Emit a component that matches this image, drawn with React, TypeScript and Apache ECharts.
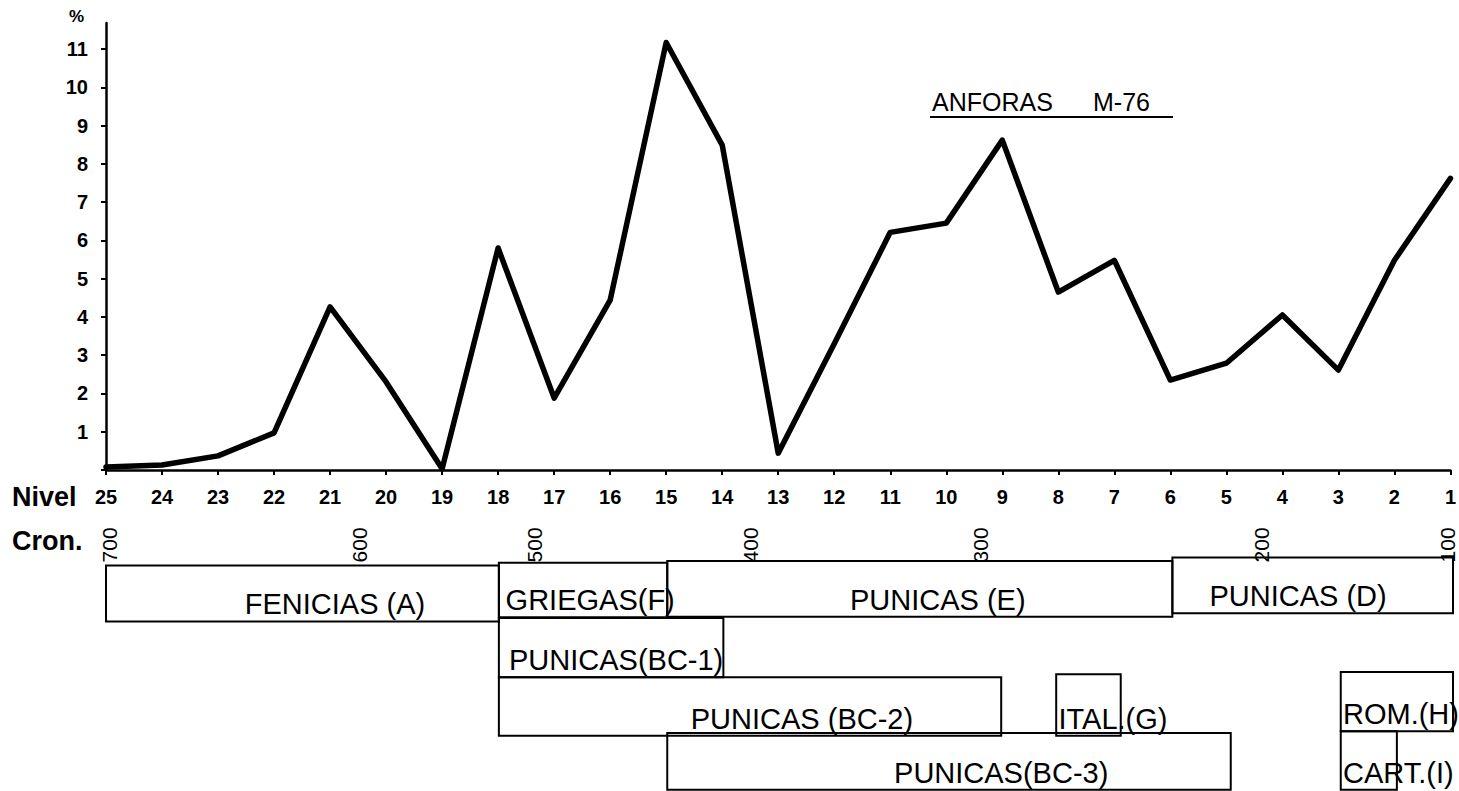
import React, { useEffect, useRef } from "react";
import * as echarts from "echarts";

// Nivel (level) categories, right to left order as drawn
const nivel = [25, 24, 23, 22, 21, 20, 19, 18, 17, 16, 15, 14, 13, 12, 11, 10, 9, 8, 7, 6, 5, 4, 3, 2, 1];
// Percentage of anforas per level
const percent = [0.08, 0.13, 0.37, 0.97, 4.26, 2.3, 0.03, 5.8, 1.88, 4.44, 11.17, 8.49, 0.44, 3.3, 6.21, 6.45, 8.62, 4.65, 5.48, 2.35, 2.79, 4.05, 2.61, 5.48, 7.62];

const yTickValues = [0, 1, 2, 3, 4, 5, 6, 7, 8, 9, 10, 11];
const yLabelValues = [1, 2, 3, 4, 5, 6, 7, 8, 9, 10, 11];

// Chronology (years BC) and the nivel position where each falls
const cronLabels = ["700", "600", "500", "400", "300", "200", "100"];
const cronNivel = [24.93, 20.49, 17.37, 13.52, 9.42, 4.41, 1.1];

// Type ranges (boxes) in nivel units and row units
const boxLabels = ["FENICIAS (A)", "GRIEGAS(F)", "PUNICAS (E)", "PUNICAS (D)", "PUNICAS(BC-1)", "PUNICAS (BC-2)", "ITAL.(G)", "PUNICAS(BC-3)", "ROM.(H)", "CART.(I)"];
const boxFrom = [25, 18, 15, 6, 18, 18, 8.07, 15, 3, 3];
const boxTo = [18, 15, 6, 1, 14, 9.05, 6.92, 4.96, 1, 2];
const boxRowTop = [0.08, 0.03, 0, -0.06, 0.99, 2.02, 1.97, 2.99, 1.93, 2.96];
const boxRowBottom = [1.05, 0.98, 0.97, 0.91, 2.02, 3.04, 3.04, 3.98, 2.96, 3.98];
const boxLabelAt = [20.92, 17.88, 10.18, 3.76, 17.82, 12.6, 8.03, 9.05, 2.96, 2.96];
const boxLabelAlign = ["center", "left", "center", "center", "left", "center", "left", "center", "left", "left"];

const FONT = '"Liberation Sans", Arial, sans-serif';

export default function App() {
  const ref = useRef<HTMLDivElement>(null);
  useEffect(() => {
    if (!ref.current) return;
    const chart = echarts.init(ref.current, undefined, { renderer: "svg" });

    const lineData = nivel.map((n, i) => [n, percent[i]]);
    const boxData = boxLabels.map((_, i) => [boxFrom[i], boxTo[i], boxRowTop[i], boxRowBottom[i], boxLabelAt[i], i]);
    const cronData = cronLabels.map((_, i) => [cronNivel[i], -0.28, i]);

    chart.setOption({
      animation: false,
      backgroundColor: "#fff",
      grid: [
        { left: 106, right: 6, top: 23, bottom: 321 },
        { left: 106, right: 6, top: 492, bottom: 0 },
      ],
      xAxis: [
        {
          gridIndex: 0,
          type: "value",
          min: 1,
          max: 25,
          interval: 1,
          inverse: true,
          splitLine: { show: false },
          axisLine: { onZero: false, lineStyle: { color: "#000", width: 2.5 } },
          axisTick: { show: true, length: 5, lineStyle: { color: "#000", width: 2 } },
          axisLabel: {
            color: "#000",
            fontFamily: FONT,
            fontWeight: "bold",
            fontSize: 20,
            margin: 17,
            showMinLabel: true,
            showMaxLabel: true,
          },
        },
        { gridIndex: 1, type: "value", min: 1, max: 25, inverse: true, show: false },
      ],
      yAxis: [
        {
          gridIndex: 0,
          type: "value",
          min: 0,
          max: 11.68,
          interval: 1,
          splitLine: { show: false },
          axisLine: { show: true, lineStyle: { color: "#000", width: 2.5 } },
          axisTick: { show: true, length: 5, customValues: yTickValues, lineStyle: { color: "#000", width: 2 } },
          axisLabel: {
            customValues: yLabelValues,
            color: "#000",
            fontFamily: FONT,
            fontWeight: "bold",
            fontSize: 20,
            margin: 18,
          },
        },
        { gridIndex: 1, type: "value", min: -1.2, max: 4, inverse: true, show: false },
      ],
      series: [
        {
          type: "line",
          xAxisIndex: 0,
          yAxisIndex: 0,
          data: lineData,
          symbol: "none",
          lineStyle: { color: "#000", width: 5.5, join: "round", cap: "round" },
        },
        {
          type: "custom",
          xAxisIndex: 1,
          yAxisIndex: 1,
          data: boxData,
          clip: false,
          renderItem: (params: any, api: any) => {
            const p0 = api.coord([api.value(0), api.value(2)]);
            const p1 = api.coord([api.value(1), api.value(3)]);
            const idx = api.value(5);
            const lp = api.coord([api.value(4), api.value(3)]);
            const x = Math.min(p0[0], p1[0]);
            const w = Math.abs(p1[0] - p0[0]);
            return {
              type: "group",
              children: [
                {
                  type: "rect",
                  shape: { x, y: p0[1], width: w, height: p1[1] - p0[1] },
                  style: { fill: "none", stroke: "#000", lineWidth: 2 },
                },
                {
                  type: "text",
                  x: lp[0],
                  y: p1[1] - 17,
                  style: {
                    text: boxLabels[idx],
                    fill: "#000",
                    font: `29px ${FONT}`,
                    align: boxLabelAlign[idx],
                    verticalAlign: "middle",
                  },
                },
              ],
            };
          },
        },
        {
          type: "custom",
          xAxisIndex: 1,
          yAxisIndex: 1,
          data: cronData,
          clip: false,
          renderItem: (params: any, api: any) => {
            const p = api.coord([api.value(0), api.value(1)]);
            const idx = api.value(2);
            return {
              type: "text",
              x: p[0],
              y: p[1],
              rotation: Math.PI / 2,
              style: {
                text: cronLabels[idx],
                fill: "#000",
                font: `21px ${FONT}`,
                align: "center",
                verticalAlign: "middle",
              },
            };
          },
        },
      ],
      graphic: [
        { type: "text", left: 69, top: 8, style: { text: "%", fill: "#000", font: `bold 17px ${FONT}` } },
        { type: "text", x: 12, y: 497, style: { text: "Nivel", fill: "#000", font: `bold 27px ${FONT}`, verticalAlign: "middle" } },
        { type: "text", x: 12, y: 541, style: { text: "Cron.", fill: "#000", font: `bold 27px ${FONT}`, verticalAlign: "middle" } },
        { type: "text", x: 932, y: 102, style: { text: "ANFORAS", fill: "#000", font: `25px ${FONT}`, verticalAlign: "middle" } },
        { type: "text", x: 1093, y: 102, style: { text: "M-76", fill: "#000", font: `25px ${FONT}`, verticalAlign: "middle" } },
        { type: "line", shape: { x1: 930, y1: 117, x2: 1173, y2: 117 }, style: { stroke: "#000", lineWidth: 2 } },
      ],
    });
    return () => chart.dispose();
  }, []);
  return <div ref={ref} style={{ position: "fixed", left: 0, top: 0, width: 1459, height: 791 }} />;
}
